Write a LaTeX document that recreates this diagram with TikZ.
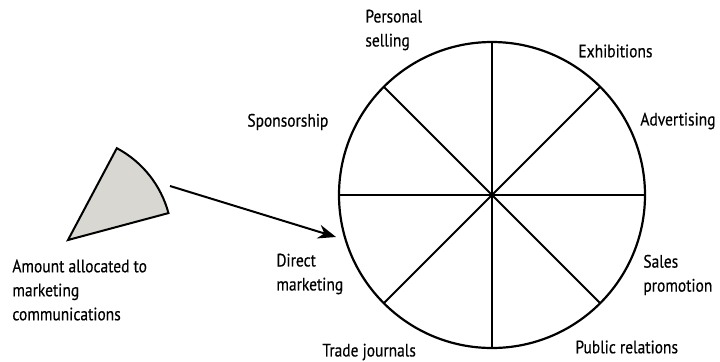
\documentclass[tikz,border=0pt]{standalone}
\usepackage{fontspec}
\setmainfont{PT Sans}[FakeStretch=0.86, FakeBold=0.4]
\usetikzlibrary{arrows.meta,calc}
\definecolor{wedgegray}{RGB}{216,215,210}
\tikzset{
  lbl/.style={anchor=west, inner sep=0pt, align=left, font=\fontsize{9}{12}\selectfont},
  spoke/.style={line width=0.9pt},
}

\begin{document}
\begin{tikzpicture}[x=0.5pt, y=0.5pt]
		%%%%% START %%%%%
		\useasboundingbox (0, 0) rectangle (720, 361);
		
		% the wheel of the budget
		\coordinate (hub) at (492, 166);
		\draw[line width=1.1pt] (hub) circle (153);
		\foreach \a in {0, 45, 90, 135}
			\draw[spoke] ($(hub)+(\a:153)$) -- ($(hub)+(\a+180:153)$);
		
		% the slice that is given to the mix
		\coordinate (tip) at (68, 121);
		\draw[line width=1pt, fill=wedgegray] (tip) -- ++(15:104) arc (15:62:104) -- cycle;
		
		\coordinate (slice) at (170, 175);
		\coordinate (rim) at (336, 124);
		\draw[line width=1pt, -{Stealth[length=9pt, width=7pt]}] (slice) -- (rim);
		
		% labels
		\node[lbl] (personal) at (365, 331) {Personal\\selling};
		\node[lbl] (exhib) at (578, 310) {Exhibitions};
		\node[lbl] (advert) at (640, 240) {Advertising};
		\node[lbl] (sponsor) at (247, 239) {Sponsorship};
		\node[lbl] (direct) at (276, 87) {Direct\\marketing};
		\node[lbl] (sales) at (643, 86) {Sales\\promotion};
		\node[lbl] (trade) at (322, 9) {Trade journals};
		\node[lbl] (public) at (575, 14) {Public relations};
		\node[lbl] (amount) at (12, 71) {Amount allocated to\\marketing\\communications};
		
		%%%%% END %%%%%
	\end{tikzpicture}
\end{document}
